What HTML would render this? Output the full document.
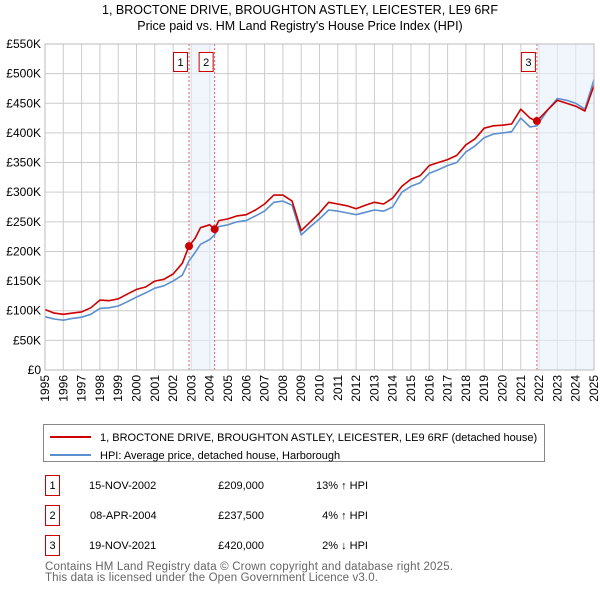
<!DOCTYPE html>
<html><head><meta charset="utf-8"><style>
body{margin:0;background:#fff;font-family:"Liberation Sans","DejaVu Sans",sans-serif;}
</style></head><body>
<svg id="c" width="600" height="590" xmlns="http://www.w3.org/2000/svg" font-family="Liberation Sans, DejaVu Sans, sans-serif">
<text x="300" y="14" text-anchor="middle" font-size="12.5" fill="#000">1, BROCTONE DRIVE, BROUGHTON ASTLEY, LEICESTER, LE9 6RF</text>
<text x="300" y="30" text-anchor="middle" font-size="12.5" fill="#000">Price paid vs. HM Land Registry's House Price Index (HPI)</text>
<g id="grid"></g><g id="bands"></g><g id="series"></g><g id="axes"></g>
<g>
<rect x="43.5" y="424.5" width="501" height="37" fill="#fff" stroke="#888"/>
<line x1="50" y1="437" x2="91" y2="437" stroke="#cc0000" stroke-width="2"/>
<text x="100" y="441" font-size="11">1, BROCTONE DRIVE, BROUGHTON ASTLEY, LEICESTER, LE9 6RF (detached house)</text>
<line x1="50" y1="455" x2="91" y2="455" stroke="#5b8fd0" stroke-width="2"/>
<text x="100" y="459" font-size="11">HPI: Average price, detached house, Harborough</text>
</g>
<g font-size="11">
<rect x="45.5" y="475.5" width="14" height="20" fill="#fff" stroke="#cc0000"/><text x="52.5" y="489" text-anchor="middle">1</text>
<text x="89" y="489">15-NOV-2002</text><text x="264" y="489" text-anchor="end">£209,000</text><text x="368" y="489" text-anchor="end">13% ↑ HPI</text>
<rect x="45.5" y="505.5" width="14" height="20" fill="#fff" stroke="#cc0000"/><text x="52.5" y="519" text-anchor="middle">2</text>
<text x="90" y="519">08-APR-2004</text><text x="264" y="519" text-anchor="end">£237,500</text><text x="368" y="519" text-anchor="end">4% ↑ HPI</text>
<rect x="45.5" y="535.5" width="14" height="20" fill="#fff" stroke="#cc0000"/><text x="52.5" y="549" text-anchor="middle">3</text>
<text x="89" y="549">19-NOV-2021</text><text x="264" y="549" text-anchor="end">£420,000</text><text x="368" y="549" text-anchor="end">2% ↓ HPI</text>
</g>
<text x="45" y="570" font-size="11.5" fill="#666" textLength="408">Contains HM Land Registry data © Crown copyright and database right 2025.</text>
<text x="45" y="581" font-size="11.5" fill="#666" textLength="333">This data is licensed under the Open Government Licence v3.0.</text>
</svg>
<script>
const years=[1995,1995.5,1996,1996.5,1997,1997.5,1998,1998.5,1999,1999.5,2000,2000.5,2001,2001.5,2002,2002.5,2002.87,2003.2,2003.5,2004,2004.27,2004.5,2005,2005.5,2006,2006.5,2007,2007.5,2008,2008.5,2009,2009.5,2010,2010.5,2011,2011.5,2012,2012.5,2013,2013.5,2014,2014.5,2015,2015.5,2016,2016.5,2017,2017.5,2018,2018.5,2019,2019.5,2020,2020.5,2021,2021.5,2021.88,2022.5,2023,2023.5,2024,2024.5,2025];
const propertyK=[102,96,94,96,98,105,118,117,120,128,136,140,150,153,162,180,209,222,240,245,237.5,252,255,260,262,270,280,295,295,285,235,250,265,283,280,277,272,278,283,280,290,310,322,328,345,350,355,362,380,390,408,412,413,415,440,425,420,440,455,450,445,437,480];
const hpiK=[90,86,84,87,89,94,104,105,108,115,123,130,138,142,150,160,184,198,212,220,228,242,245,250,252,260,268,283,285,278,228,242,255,270,268,265,262,266,270,268,275,300,310,316,332,338,345,350,368,378,392,398,400,402,425,410,412,440,458,455,450,440,490];
const yTicks=[0,50,100,150,200,250,300,350,400,450,500,550];
const xTickYears=[1995,1996,1997,1998,1999,2000,2001,2002,2003,2004,2005,2006,2007,2008,2009,2010,2011,2012,2013,2014,2015,2016,2017,2018,2019,2020,2021,2022,2023,2024,2025];
const saleYears=[2002.87,2004.27,2021.88];
const salePricesK=[209,237.5,420];
const saleLabels=["1","2","3"];
const ns="http://www.w3.org/2000/svg";
const L=45,R=594,T=44,B=370;
const X=y=>L+(y-1995)/30*(R-L);
const Y=v=>B-v/550*(B-T);
function mk(tag,attrs,parent){const e=document.createElementNS(ns,tag);for(const k in attrs)e.setAttribute(k,attrs[k]);parent.appendChild(e);return e;}
const grid=document.getElementById('grid'),bands=document.getElementById('bands'),ser=document.getElementById('series'),axes=document.getElementById('axes');
mk('rect',{x:L,y:T,width:R-L,height:B-T,fill:'#fff'},grid);
yTicks.forEach(v=>{
 const l=mk('line',{x1:L,x2:R,y1:Y(v),y2:Y(v),stroke:'#ccc'},grid);
 
 
 const t=mk('text',{x:L-4,y:Y(v)+4,'text-anchor':'end','font-size':'12'},axes);
 t.textContent=v===0?'£0':'£'+v+'K';
 
 
});
xTickYears.forEach(yr=>{
 const l=mk('line',{x1:X(yr),x2:X(yr),y1:T,y2:B,stroke:'#ccc'},grid);
 
 
 const t=mk('text',{x:0,y:0,'text-anchor':'end','font-size':'12',transform:`translate(${X(yr)+4},${B+5}) rotate(-90)`},axes);
 t.textContent=yr;
 
 
});
[[saleYears[0],saleYears[1]],[saleYears[2],2025]].forEach(b=>{
 const r=mk('rect',{x:X(b[0]),y:T,width:X(b[1])-X(b[0]),height:B-T,fill:'#e8effa',opacity:0.6},bands);
 
 
});
saleYears.forEach((yr,i)=>{
 const l=mk('line',{x1:X(yr),x2:X(yr),y1:T,y2:B,stroke:'#e06060','stroke-dasharray':'2,2'},bands);
 
 
 const bx=X(yr)-1;
 const r=mk('rect',{x:bx-14.5,y:52.5,width:14,height:19,fill:'#fff',stroke:'#cc0000'},bands);
 
 
 const t=mk('text',{x:bx-7.5,y:66,'text-anchor':'middle','font-size':'11'},bands);
 t.textContent=saleLabels[i];
 
 
});
mk('rect',{x:L,y:T,width:R-L,height:B-T,fill:'none',stroke:'#bbb'},axes);
function line(vals,color,name){
 const d=vals.map((v,i)=>(i?'L':'M')+X(years[i]).toFixed(1)+','+Y(v).toFixed(1)).join(' ');
 const p=mk('path',{d:d,fill:'none',stroke:color,'stroke-width':1.6,'stroke-linejoin':'round'},ser);
 
 
}
line(hpiK,'#5b8fd0','hpi-line');
line(propertyK,'#cc0000','property-line');
saleYears.forEach((yr,i)=>{
 const c=mk('circle',{cx:X(yr),cy:Y(salePricesK[i]),r:4,fill:'#cc0000'},ser);
 
 
});
</script>
</body></html>
